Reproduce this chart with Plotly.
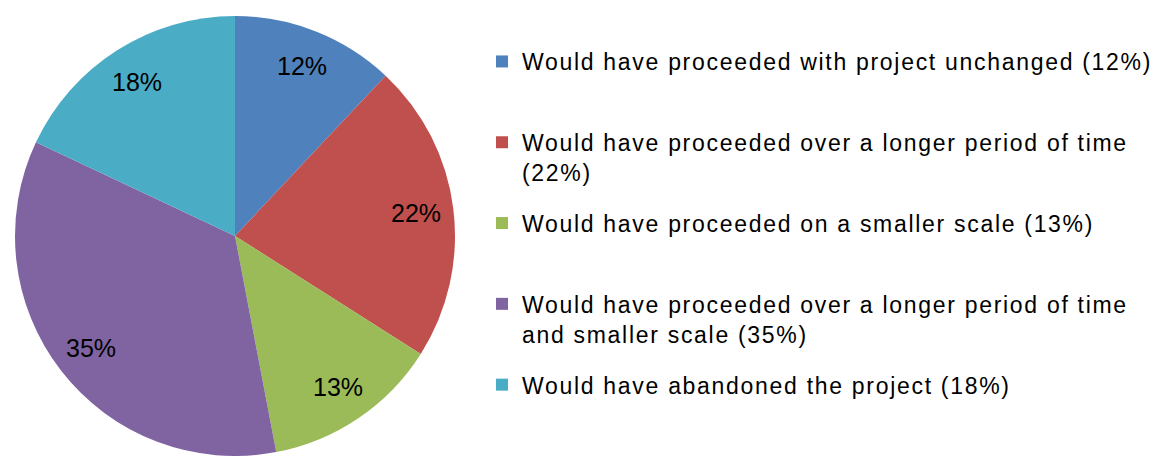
import math
import textwrap
import plotly.graph_objects as go

# Survey responses: what would have happened to the project without support
categories = [
    "Would have proceeded with project unchanged",
    "Would have proceeded over a longer period of time",
    "Would have proceeded on a smaller scale",
    "Would have proceeded over a longer period of time and smaller scale",
    "Would have abandoned the project",
]
values = [12, 22, 13, 35, 18]
colors = ["#4F81BD", "#C0504D", "#9BBB59", "#8064A2", "#4BACC6"]

W, H = 1160, 456
PIE_CX, PIE_CY, PIE_R = 235, 236, 220   # pixel centre / radius of the pie
LABEL_FONT = "Liberation Sans, Arial, sans-serif"

fig = go.Figure()

fig.add_trace(go.Pie(
    labels=categories,
    values=values,
    sort=False,
    direction="clockwise",
    rotation=0,
    marker=dict(colors=colors, line=dict(width=0)),
    textinfo="none",
    hoverinfo="label+percent",
    showlegend=False,
    domain=dict(
        x=[(PIE_CX - PIE_R) / W, (PIE_CX + PIE_R) / W],
        y=[0, (2 * PIE_R) / H],
    ),
))

# Percentage labels placed along each slice's bisector
total = sum(values)
cum = 0
for v in values:
    mid = (cum + v / 2) / total * 2 * math.pi
    cum += v
    r = 0.83 * PIE_R
    px = PIE_CX + r * math.sin(mid)
    py = PIE_CY - r * math.cos(mid)
    fig.add_annotation(
        x=px / W, y=1 - py / H, xref="paper", yref="paper",
        text=f"{round(v / total * 100)}%", showarrow=False,
        xanchor="center", yanchor="middle",
        font=dict(family=LABEL_FONT, size=25, color="#000000"),
    )

# Legend entries: one group per category so the spacing between them is even
SPACED = "<span style='letter-spacing:1.7px'>{}</span>"
for i, (cat, v, c) in enumerate(zip(categories, values, colors)):
    lines = textwrap.wrap(f"{cat} ({v}%)", width=49)
    if len(lines) < 2:
        lines.append("\u00a0")
    label = "<br>".join(SPACED.format(s) for s in lines)
    fig.add_trace(go.Scatter(
        x=[None], y=[None], mode="markers",
        marker=dict(symbol="square", size=12, color=c),
        name=label, legendgroup=f"g{i}", showlegend=True,
        hoverinfo="skip",
    ))

fig.update_layout(
    width=W, height=H,
    margin=dict(l=0, r=0, t=0, b=0),
    paper_bgcolor="white", plot_bgcolor="white",
    xaxis=dict(visible=False), yaxis=dict(visible=False),
    legend=dict(
        x=482 / W, y=1 - 40 / H, xanchor="left", yanchor="top",
        valign="top", tracegroupgap=18, itemwidth=30,
        font=dict(family=LABEL_FONT, size=23, color="#000000"),
        bgcolor="rgba(0,0,0,0)", borderwidth=0,
    ),
)

fig.write_html("out.html")
